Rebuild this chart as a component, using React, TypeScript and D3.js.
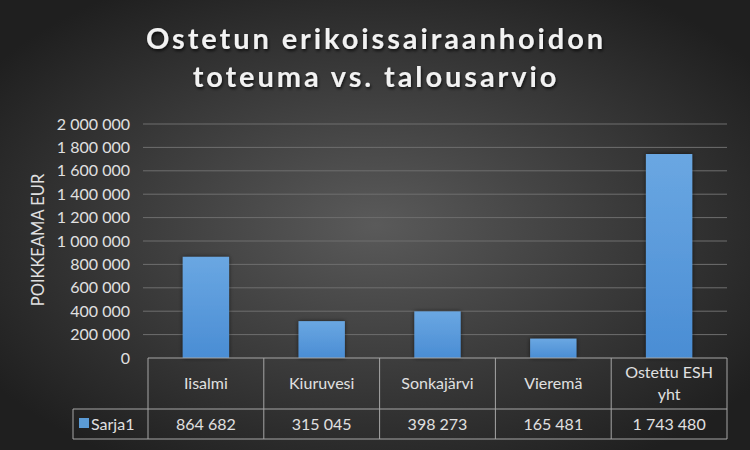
import React from "react";
import * as d3 from "d3";

const categories = ["Iisalmi", "Kiuruvesi", "Sonkajärvi", "Vieremä", "Ostettu ESH yht"];
const headerLines = [["Iisalmi"], ["Kiuruvesi"], ["Sonkajärvi"], ["Vieremä"], ["Ostettu ESH", "yht"]];
const values = [864682, 315045, 398273, 165481, 1743480];
const valueLabels = ["864 682", "315 045", "398 273", "165 481", "1 743 480"];
const seriesName = "Sarja1";
const yTicks = [0, 200000, 400000, 600000, 800000, 1000000, 1200000, 1400000, 1600000, 1800000, 2000000];
const titleLines = ["Ostetun erikoissairaanhoidon", "toteuma vs. talousarvio"];
const yTitle = "POIKKEAMA EUR";

const W = 750, H = 450;
const left = 148, right = 727, top = 124, bottom = 358;
const row1 = 409, row2 = 439, legendLeft = 73;

const fmt = (v: number) => {
  const s = String(v);
  return s.replace(/\B(?=(\d{3})+(?!\d))/g, " ");
};

export default function App() {
  const x = d3.scaleBand<string>().domain(categories).range([left, right]).paddingInner(0).paddingOuter(0);
  const y = d3.scaleLinear().domain([0, 2000000]).range([bottom, top]);
  const bw = x.bandwidth();
  const barW = bw * 0.4;
  const font = "Lato, 'Open Sans', sans-serif";
  const txt = "#e0e0e0";
  const line = "#a6a6a6";
  return (
    <svg width={W} height={H} style={{ position: "absolute", left: 0, top: 0 }}>
      <defs>
        <radialGradient id="bg" cx="0.5" cy="0.5" r="0.62">
          <stop offset="0" stopColor="#5a5a5a" />
          <stop offset="1" stopColor="#1f1f1f" />
        </radialGradient>
        <linearGradient id="bar" x1="0" y1="0" x2="0" y2="1">
          <stop offset="0" stopColor="#6aa7e2" />
          <stop offset="1" stopColor="#4a8dd4" />
        </linearGradient>
        <filter id="sh" x="-50%" y="-50%" width="200%" height="200%">
          <feDropShadow dx="0" dy="0" stdDeviation="2" floodColor="#000" floodOpacity="0.6" />
        </filter>
        <filter id="tsh" x="-10%" y="-30%" width="120%" height="160%">
          <feDropShadow dx="1" dy="2" stdDeviation="1.5" floodColor="#000" floodOpacity="0.7" />
        </filter>
      </defs>
      <rect x={0} y={0} width={W} height={H} fill="url(#bg)" />
      {titleLines.map((t, i) => (
        <text key={t} x={376} y={49 + i * 38} textAnchor="middle" fill="#f2f2f2" fontFamily={font}
          fontWeight="bold" fontSize={29} letterSpacing={2.9} filter="url(#tsh)">{t}</text>
      ))}
      {yTicks.map((t) => (
        <g key={t}>
          {t > 0 && <line x1={143} x2={right} y1={y(t)} y2={y(t)} stroke="#6e6e6e" strokeWidth={1} />}
          <text x={130} y={y(t)} dy="0.35em" textAnchor="end" fill={txt} fontFamily={font} fontSize={16}>{fmt(t)}</text>
        </g>
      ))}
      <text transform={`translate(38,240) rotate(-90)`} textAnchor="middle" dy="0.35em" fill={txt}
        fontFamily={font} fontSize={16.5}>{yTitle}</text>
      {categories.map((c, i) => (
        <rect key={c} x={(x(c) as number) + (bw - barW) / 2} y={y(values[i])} width={barW}
          height={bottom - y(values[i])} fill="url(#bar)" filter="url(#sh)" />
      ))}
      <g stroke={line} strokeWidth={1} fill="none">
        <line x1={left} x2={right} y1={bottom} y2={bottom} />
        <line x1={legendLeft} x2={right} y1={row1} y2={row1} />
        <line x1={legendLeft} x2={right} y1={row2} y2={row2} />
        <line x1={legendLeft} x2={legendLeft} y1={row1} y2={row2} />
        {categories.map((c) => (
          <line key={c} x1={x(c) as number} x2={x(c) as number} y1={bottom} y2={row2} />
        ))}
        <line x1={right} x2={right} y1={bottom} y2={row2} />
      </g>
      {categories.map((c, i) => {
        const cx = (x(c) as number) + bw / 2;
        const hl = headerLines[i];
        const cy = (bottom + row1) / 2;
        return (
          <g key={c}>
            {hl.map((l, j) => (
              <text key={l} x={cx} y={cy + (j - (hl.length - 1) / 2) * 22} dy="0.35em" textAnchor="middle"
                fill={txt} fontFamily={font} fontSize={16}>{l}</text>
            ))}
            <text x={cx} y={(row1 + row2) / 2} dy="0.35em" textAnchor="middle" fill={txt} fontFamily={font}
              fontSize={16}>{valueLabels[i]}</text>
          </g>
        );
      })}
      <rect x={79} y={418} width={10} height={10} fill="#5b9bd5" />
      <text x={91} y={(row1 + row2) / 2} dy="0.35em" fill={txt} fontFamily={font} fontSize={16}>{seriesName}</text>
    </svg>
  );
}
